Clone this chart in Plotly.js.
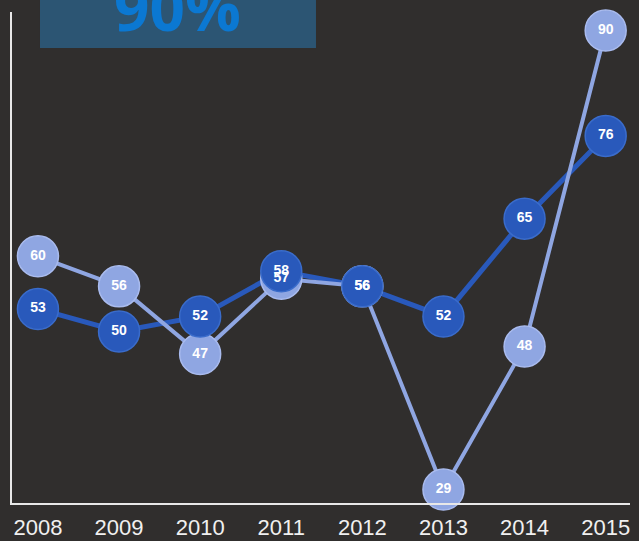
<!DOCTYPE html>
<html>
<head>
<meta charset="utf-8">
<script src="https://cdn.plot.ly/plotly-3.0.1.min.js"></script>
<style>
  html, body { margin: 0; padding: 0; background: #302e2d; }
  #chart { width: 639px; height: 541px; }
</style>
</head>
<body>
<div id="chart"></div>
<script>
// Chart data
const years = [2008, 2009, 2010, 2011, 2012, 2013, 2014, 2015];
const darkSeries = [53, 50, 52, 58, 56, 52, 65, 76];
const lightSeries = [60, 56, 47, 57, 56, 29, 48, 90];
const headline = '90%';

const darkBlue = '#2959bb';
const lightBlue = '#8fa6e2';

const labelFont = { family: 'Arial, "Liberation Sans", sans-serif', size: 14, color: '#ffffff', weight: 'bold' };

// lines first, then markers, then the value labels on top of everything
const traces = [
    {
        x: years, y: darkSeries, mode: 'lines', hoverinfo: 'skip',
        line: { color: darkBlue, width: 5 }
    },
    {
        x: years, y: lightSeries, mode: 'lines', hoverinfo: 'skip',
        line: { color: lightBlue, width: 4 }
    },
    {
        x: years, y: lightSeries, mode: 'markers',
        marker: { color: lightBlue, size: 41, line: { color: '#a9bbee', width: 1.5 } },
        cliponaxis: false
    },
    {
        x: years, y: darkSeries, mode: 'markers',
        marker: { color: darkBlue, size: 41, line: { color: '#3a6ccb', width: 1.5 } },
        cliponaxis: false
    },
    {
        x: years, y: lightSeries, mode: 'text',
        text: lightSeries.map(String), textposition: 'middle center',
        textfont: labelFont, cliponaxis: false
    },
    {
        x: years, y: darkSeries, mode: 'text',
        text: darkSeries.map(String), textposition: 'middle center',
        textfont: labelFont, cliponaxis: false
    }
];

const layout = {
    width: 639,
    height: 541,
    margin: { l: 12, r: 9, t: 12, b: 38 },
    paper_bgcolor: '#302e2d',
    plot_bgcolor: '#302e2d',
    showlegend: false,
    xaxis: {
        range: [2007.68, 2015.3],
        tickvals: years,
        ticktext: years.map(String),
        showgrid: false,
        zeroline: false,
        showline: true,
        linecolor: '#e8e8e8',
        linewidth: 2,
        ticks: '',
        ticklabelstandoff: 4,
        tickfont: { family: 'Arial, "Liberation Sans", sans-serif', size: 22, color: '#f0f0f0' }
    },
    yaxis: {
        range: [27.2, 92.47],
        showgrid: false,
        zeroline: false,
        showline: true,
        linecolor: '#e8e8e8',
        linewidth: 2,
        showticklabels: false,
        ticks: ''
    },
    shapes: [
        {
            type: 'rect', xref: 'paper', yref: 'paper',
            x0: 0.0453, x1: 0.4919, y0: 0.9267, y1: 1.03,
            fillcolor: '#2c5573', line: { width: 0 }, layer: 'above'
        }
    ],
    annotations: [
        {
            xref: 'paper', yref: 'paper', x: 0.267, y: 0.92,
            xanchor: 'center', yanchor: 'bottom',
            text: headline, showarrow: false,
            font: { family: '"Open Sans", sans-serif', size: 62, color: '#0b78d2', weight: 'bold' }
        }
    ]
};

Plotly.newPlot('chart', traces, layout, { displayModeBar: false, staticPlot: true });
</script>
</body>
</html>
